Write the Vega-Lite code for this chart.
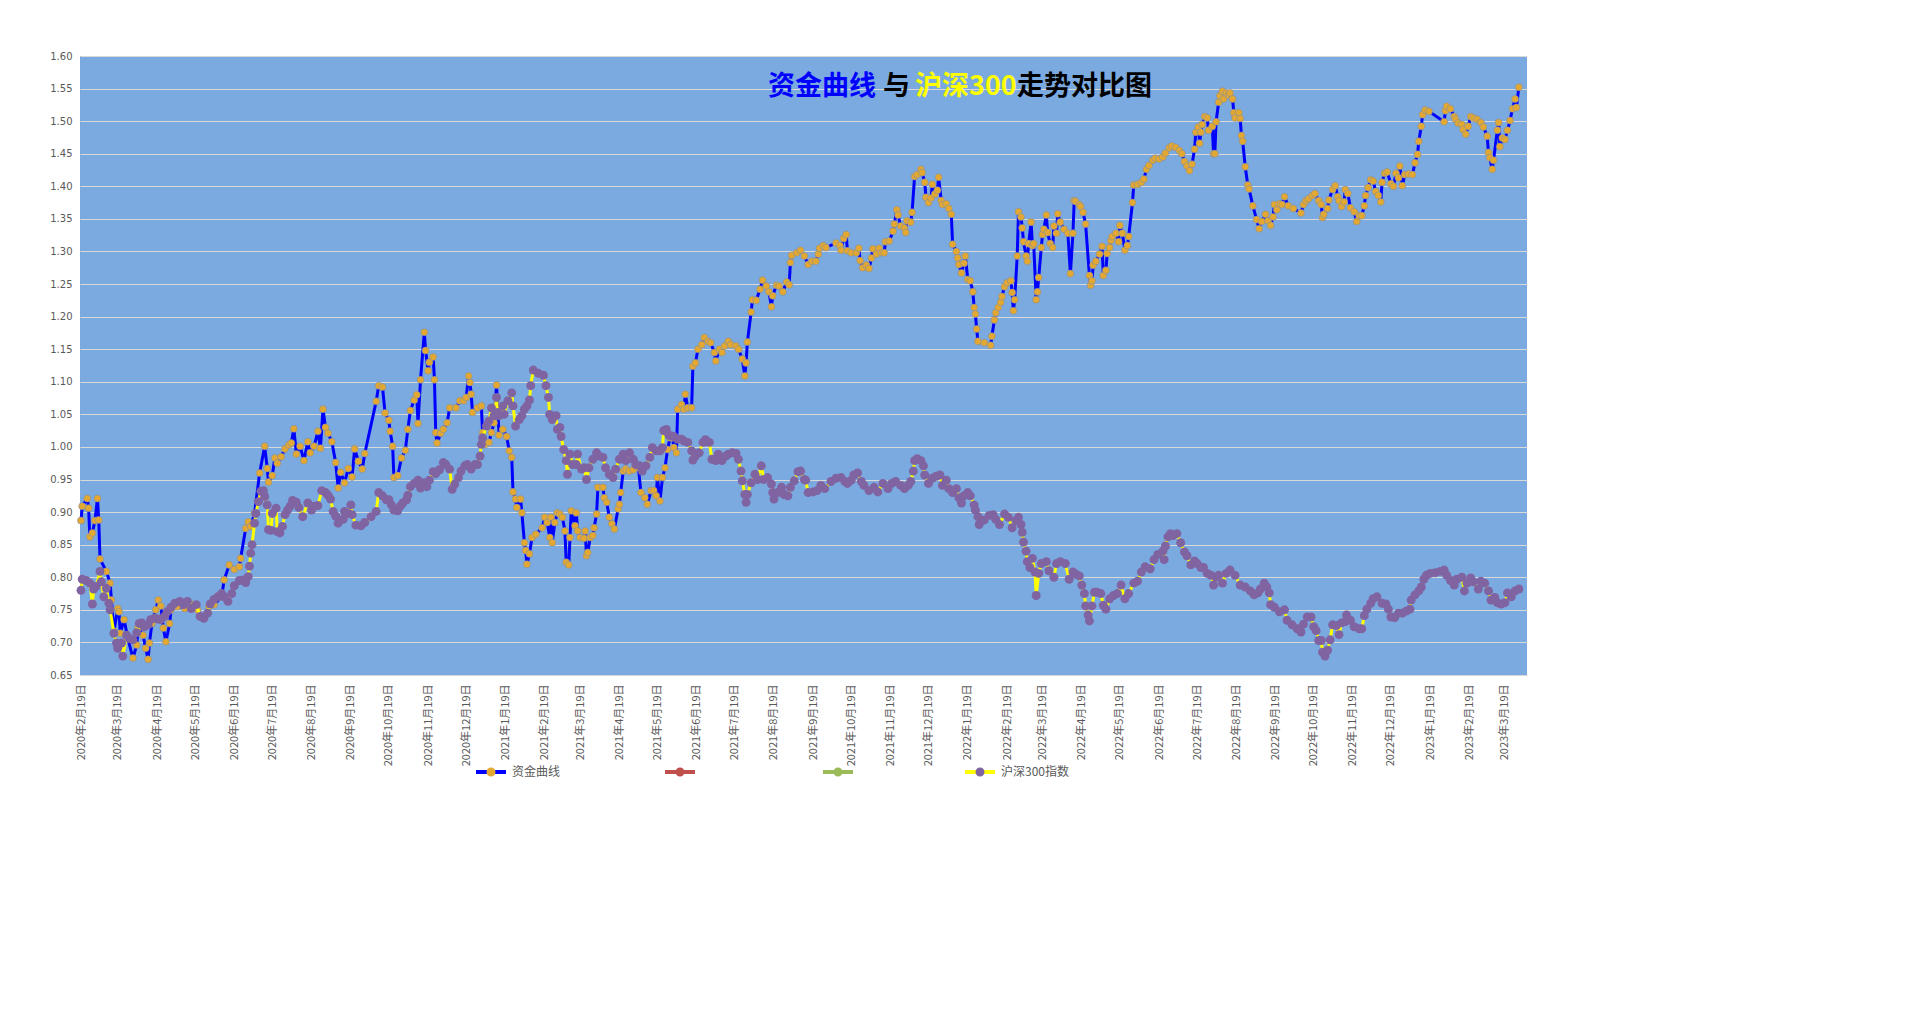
{
"$schema":"https://vega.github.io/schema/vega-lite/v6.json",
"width":1447,"height":619,
"autosize":{"type":"none"},
"padding":{"left":80,"top":56,"right":393,"bottom":351},
"background":"white",
"config":{"view":{"fill":"#7AAAE0","stroke":null},"font":"Noto Sans CJK SC"},
"datasets":{
"fund":[
{"d":"2020-02-19","v":0.887},{"d":"2020-02-20","v":0.909},{"d":"2020-02-24","v":0.921},{"d":"2020-02-25","v":0.906},{"d":"2020-02-26","v":0.862},{"d":"2020-02-28","v":0.868},{"d":"2020-03-01","v":0.887},{"d":"2020-03-03","v":0.921},{"d":"2020-03-04","v":0.888},{"d":"2020-03-05","v":0.828},{"d":"2020-03-10","v":0.809},{"d":"2020-03-13","v":0.791},{"d":"2020-03-14","v":0.765},{"d":"2020-03-16","v":0.717},{"d":"2020-03-19","v":0.752},{"d":"2020-03-20","v":0.747},{"d":"2020-03-21","v":0.714},{"d":"2020-03-24","v":0.735},{"d":"2020-03-27","v":0.706},{"d":"2020-03-31","v":0.676},
{"d":"2020-04-03","v":0.696},{"d":"2020-04-04","v":0.722},{"d":"2020-04-08","v":0.711},{"d":"2020-04-10","v":0.691},{"d":"2020-04-12","v":0.674},{"d":"2020-04-13","v":0.699},{"d":"2020-04-15","v":0.729},{"d":"2020-04-18","v":0.750},{"d":"2020-04-20","v":0.765},{"d":"2020-04-22","v":0.756},{"d":"2020-04-24","v":0.722},{"d":"2020-04-26","v":0.701},{"d":"2020-04-29","v":0.729},{"d":"2020-04-30","v":0.750},{"d":"2020-05-05","v":0.755},{"d":"2020-05-11","v":0.752},{"d":"2020-05-17","v":0.758},{"d":"2020-05-21","v":0.750},{"d":"2020-05-26","v":0.737},{"d":"2020-05-30","v":0.755},
{"d":"2020-06-03","v":0.758},{"d":"2020-06-09","v":0.770},{"d":"2020-06-11","v":0.796},{"d":"2020-06-15","v":0.819},{"d":"2020-06-19","v":0.812},{"d":"2020-06-23","v":0.816},{"d":"2020-06-24","v":0.829},{"d":"2020-06-28","v":0.875},{"d":"2020-06-30","v":0.885},{"d":"2020-07-02","v":0.878},{"d":"2020-07-05","v":0.898},{"d":"2020-07-09","v":0.960},{"d":"2020-07-13","v":1.001},{"d":"2020-07-15","v":0.967},{"d":"2020-07-16","v":0.946},{"d":"2020-07-19","v":0.956},{"d":"2020-07-21","v":0.983},{"d":"2020-07-23","v":0.975},{"d":"2020-07-26","v":0.985},{"d":"2020-07-29","v":0.997},
{"d":"2020-08-01","v":1.003},{"d":"2020-08-03","v":1.006},{"d":"2020-08-05","v":1.028},{"d":"2020-08-07","v":0.989},{"d":"2020-08-10","v":1.001},{"d":"2020-08-13","v":0.979},{"d":"2020-08-16","v":1.008},{"d":"2020-08-18","v":0.991},{"d":"2020-08-21","v":1.001},{"d":"2020-08-24","v":1.024},{"d":"2020-08-26","v":0.998},{"d":"2020-08-28","v":1.058},{"d":"2020-08-30","v":1.030},{"d":"2020-09-01","v":1.021},{"d":"2020-09-04","v":1.008},{"d":"2020-09-07","v":0.976},{"d":"2020-09-09","v":0.937},{"d":"2020-09-11","v":0.961},{"d":"2020-09-14","v":0.945},{"d":"2020-09-17","v":0.967},
{"d":"2020-09-20","v":0.954},{"d":"2020-09-22","v":0.997},{"d":"2020-09-25","v":0.978},{"d":"2020-09-28","v":0.966},{"d":"2020-09-30","v":0.990},{"d":"2020-10-09","v":1.070},{"d":"2020-10-11","v":1.094},{"d":"2020-10-14","v":1.092},{"d":"2020-10-16","v":1.052},{"d":"2020-10-19","v":1.041},{"d":"2020-10-20","v":1.024},{"d":"2020-10-22","v":1.001},{"d":"2020-10-23","v":0.953},{"d":"2020-10-26","v":0.956},{"d":"2020-10-29","v":0.983},{"d":"2020-11-01","v":0.995},{"d":"2020-11-03","v":1.027},{"d":"2020-11-05","v":1.056},{"d":"2020-11-08","v":1.072},{"d":"2020-11-10","v":1.080},
{"d":"2020-11-11","v":1.036},{"d":"2020-11-13","v":1.103},{"d":"2020-11-16","v":1.176},{"d":"2020-11-17","v":1.148},{"d":"2020-11-19","v":1.117},{"d":"2020-11-20","v":1.130},{"d":"2020-11-23","v":1.138},{"d":"2020-11-24","v":1.103},{"d":"2020-11-25","v":1.022},{"d":"2020-11-26","v":1.006},{"d":"2020-11-29","v":1.021},{"d":"2020-12-01","v":1.027},{"d":"2020-12-04","v":1.037},{"d":"2020-12-06","v":1.060},{"d":"2020-12-11","v":1.060},{"d":"2020-12-14","v":1.071},{"d":"2020-12-17","v":1.071},{"d":"2020-12-19","v":1.076},{"d":"2020-12-21","v":1.109},{"d":"2020-12-22","v":1.099},
{"d":"2020-12-23","v":1.081},{"d":"2020-12-24","v":1.053},{"d":"2020-12-28","v":1.060},{"d":"2020-12-31","v":1.063},{"d":"2021-01-01","v":1.022},{"d":"2021-01-03","v":1.004},{"d":"2021-01-06","v":1.007},{"d":"2021-01-08","v":1.022},{"d":"2021-01-10","v":1.037},{"d":"2021-01-12","v":1.095},{"d":"2021-01-14","v":1.018},{"d":"2021-01-17","v":1.027},{"d":"2021-01-20","v":1.016},{"d":"2021-01-22","v":0.994},{"d":"2021-01-24","v":0.984},{"d":"2021-01-25","v":0.931},{"d":"2021-01-27","v":0.920},{"d":"2021-01-28","v":0.907},{"d":"2021-01-31","v":0.920},{"d":"2021-02-01","v":0.899},
{"d":"2021-02-03","v":0.853},{"d":"2021-02-04","v":0.841},{"d":"2021-02-05","v":0.820},{"d":"2021-02-07","v":0.836},{"d":"2021-02-09","v":0.861},{"d":"2021-02-12","v":0.866},{"d":"2021-02-17","v":0.876},{"d":"2021-02-19","v":0.892},{"d":"2021-02-21","v":0.884},{"d":"2021-02-23","v":0.861},{"d":"2021-02-24","v":0.892},{"d":"2021-02-25","v":0.853},{"d":"2021-02-27","v":0.884},{"d":"2021-03-01","v":0.899},{"d":"2021-03-03","v":0.897},{"d":"2021-03-05","v":0.892},{"d":"2021-03-07","v":0.871},{"d":"2021-03-08","v":0.823},{"d":"2021-03-10","v":0.819},{"d":"2021-03-11","v":0.861},
{"d":"2021-03-12","v":0.902},{"d":"2021-03-15","v":0.879},{"d":"2021-03-16","v":0.899},{"d":"2021-03-17","v":0.871},{"d":"2021-03-19","v":0.861},{"d":"2021-03-22","v":0.860},{"d":"2021-03-23","v":0.871},{"d":"2021-03-24","v":0.833},{"d":"2021-03-25","v":0.838},{"d":"2021-03-27","v":0.861},{"d":"2021-03-29","v":0.864},{"d":"2021-03-30","v":0.876},{"d":"2021-04-01","v":0.897},{"d":"2021-04-02","v":0.938},{"d":"2021-04-06","v":0.938},{"d":"2021-04-07","v":0.922},{"d":"2021-04-09","v":0.915},{"d":"2021-04-11","v":0.892},{"d":"2021-04-13","v":0.882},{"d":"2021-04-15","v":0.874},
{"d":"2021-04-18","v":0.905},{"d":"2021-04-19","v":0.912},{"d":"2021-04-20","v":0.930},{"d":"2021-04-22","v":0.963},{"d":"2021-04-24","v":0.966},{"d":"2021-04-27","v":0.963},{"d":"2021-04-30","v":0.965},{"d":"2021-05-04","v":0.968},{"d":"2021-05-06","v":0.930},{"d":"2021-05-09","v":0.922},{"d":"2021-05-11","v":0.912},{"d":"2021-05-14","v":0.933},{"d":"2021-05-16","v":0.933},{"d":"2021-05-18","v":0.925},{"d":"2021-05-19","v":0.953},{"d":"2021-05-21","v":0.917},{"d":"2021-05-23","v":0.953},{"d":"2021-05-25","v":0.968},{"d":"2021-05-27","v":0.996},{"d":"2021-05-29","v":1.014},
{"d":"2021-05-31","v":1.014},{"d":"2021-06-01","v":0.999},{"d":"2021-06-03","v":0.991},{"d":"2021-06-04","v":1.058},{"d":"2021-06-07","v":1.065},{"d":"2021-06-09","v":1.058},{"d":"2021-06-10","v":1.081},{"d":"2021-06-12","v":1.060},{"d":"2021-06-15","v":1.060},{"d":"2021-06-16","v":1.124},{"d":"2021-06-18","v":1.129},{"d":"2021-06-20","v":1.150},{"d":"2021-06-23","v":1.157},{"d":"2021-06-25","v":1.168},{"d":"2021-06-28","v":1.162},{"d":"2021-06-30","v":1.160},{"d":"2021-07-03","v":1.145},{"d":"2021-07-04","v":1.132},{"d":"2021-07-07","v":1.150},{"d":"2021-07-09","v":1.145},
{"d":"2021-07-11","v":1.155},{"d":"2021-07-14","v":1.162},{"d":"2021-07-16","v":1.157},{"d":"2021-07-20","v":1.155},{"d":"2021-07-22","v":1.150},{"d":"2021-07-25","v":1.135},{"d":"2021-07-27","v":1.109},{"d":"2021-07-28","v":1.129},{"d":"2021-07-29","v":1.161},{"d":"2021-08-01","v":1.207},{"d":"2021-08-02","v":1.226},{"d":"2021-08-05","v":1.225},{"d":"2021-08-08","v":1.242},{"d":"2021-08-10","v":1.256},{"d":"2021-08-13","v":1.247},{"d":"2021-08-15","v":1.238},{"d":"2021-08-17","v":1.215},{"d":"2021-08-18","v":1.232},{"d":"2021-08-21","v":1.248},{"d":"2021-08-23","v":1.247},
{"d":"2021-08-26","v":1.238},{"d":"2021-08-29","v":1.253},{"d":"2021-08-31","v":1.249},{"d":"2021-09-01","v":1.283},{"d":"2021-09-02","v":1.294},{"d":"2021-09-06","v":1.298},{"d":"2021-09-09","v":1.302},{"d":"2021-09-12","v":1.293},{"d":"2021-09-15","v":1.280},{"d":"2021-09-18","v":1.285},{"d":"2021-09-21","v":1.285},{"d":"2021-09-23","v":1.296},{"d":"2021-09-24","v":1.305},{"d":"2021-09-27","v":1.309},{"d":"2021-09-29","v":1.306},{"d":"2021-10-07","v":1.313},{"d":"2021-10-10","v":1.309},{"d":"2021-10-11","v":1.302},{"d":"2021-10-13","v":1.320},{"d":"2021-10-15","v":1.326},
{"d":"2021-10-16","v":1.301},{"d":"2021-10-19","v":1.298},{"d":"2021-10-23","v":1.298},{"d":"2021-10-25","v":1.305},{"d":"2021-10-26","v":1.286},{"d":"2021-10-28","v":1.275},{"d":"2021-10-31","v":1.279},{"d":"2021-11-02","v":1.274},{"d":"2021-11-04","v":1.290},{"d":"2021-11-05","v":1.304},{"d":"2021-11-08","v":1.296},{"d":"2021-11-10","v":1.305},{"d":"2021-11-12","v":1.298},{"d":"2021-11-14","v":1.298},{"d":"2021-11-15","v":1.315},{"d":"2021-11-18","v":1.316},{"d":"2021-11-21","v":1.331},{"d":"2021-11-22","v":1.342},{"d":"2021-11-24","v":1.364},{"d":"2021-11-25","v":1.356},
{"d":"2021-11-27","v":1.339},{"d":"2021-11-30","v":1.336},{"d":"2021-12-01","v":1.329},{"d":"2021-12-02","v":1.347},{"d":"2021-12-05","v":1.345},{"d":"2021-12-06","v":1.360},{"d":"2021-12-08","v":1.415},{"d":"2021-12-10","v":1.418},{"d":"2021-12-13","v":1.426},{"d":"2021-12-14","v":1.421},{"d":"2021-12-16","v":1.406},{"d":"2021-12-17","v":1.383},{"d":"2021-12-19","v":1.375},{"d":"2021-12-21","v":1.382},{"d":"2021-12-22","v":1.403},{"d":"2021-12-24","v":1.388},{"d":"2021-12-26","v":1.394},{"d":"2021-12-27","v":1.414},{"d":"2021-12-29","v":1.378},{"d":"2021-12-30","v":1.372},
{"d":"2022-01-02","v":1.373},{"d":"2022-01-04","v":1.366},{"d":"2022-01-06","v":1.357},{"d":"2022-01-07","v":1.311},{"d":"2022-01-10","v":1.300},{"d":"2022-01-11","v":1.290},{"d":"2022-01-12","v":1.280},{"d":"2022-01-14","v":1.267},{"d":"2022-01-16","v":1.282},{"d":"2022-01-17","v":1.293},{"d":"2022-01-19","v":1.257},{"d":"2022-01-21","v":1.255},{"d":"2022-01-23","v":1.238},{"d":"2022-01-24","v":1.214},{"d":"2022-01-25","v":1.204},{"d":"2022-01-26","v":1.181},{"d":"2022-01-27","v":1.162},{"d":"2022-02-01","v":1.160},{"d":"2022-02-06","v":1.156},{"d":"2022-02-07","v":1.170},
{"d":"2022-02-09","v":1.195},{"d":"2022-02-10","v":1.206},{"d":"2022-02-12","v":1.214},{"d":"2022-02-14","v":1.222},{"d":"2022-02-15","v":1.231},{"d":"2022-02-17","v":1.246},{"d":"2022-02-19","v":1.252},{"d":"2022-02-22","v":1.255},{"d":"2022-02-23","v":1.237},{"d":"2022-02-24","v":1.209},{"d":"2022-02-25","v":1.226},{"d":"2022-02-27","v":1.293},{"d":"2022-02-28","v":1.361},{"d":"2022-03-02","v":1.353},{"d":"2022-03-03","v":1.336},{"d":"2022-03-04","v":1.315},{"d":"2022-03-06","v":1.293},{"d":"2022-03-07","v":1.285},{"d":"2022-03-08","v":1.312},{"d":"2022-03-10","v":1.345},
{"d":"2022-03-11","v":1.309},{"d":"2022-03-12","v":1.312},{"d":"2022-03-14","v":1.226},{"d":"2022-03-15","v":1.238},{"d":"2022-03-16","v":1.260},{"d":"2022-03-18","v":1.306},{"d":"2022-03-19","v":1.326},{"d":"2022-03-20","v":1.334},{"d":"2022-03-22","v":1.356},{"d":"2022-03-23","v":1.329},{"d":"2022-03-25","v":1.312},{"d":"2022-03-27","v":1.306},{"d":"2022-03-28","v":1.339},{"d":"2022-03-30","v":1.328},{"d":"2022-03-31","v":1.358},{"d":"2022-04-02","v":1.345},{"d":"2022-04-05","v":1.334},{"d":"2022-04-08","v":1.328},{"d":"2022-04-10","v":1.266},{"d":"2022-04-12","v":1.328},
{"d":"2022-04-13","v":1.378},{"d":"2022-04-14","v":1.377},{"d":"2022-04-17","v":1.372},{"d":"2022-04-18","v":1.369},{"d":"2022-04-20","v":1.360},{"d":"2022-04-22","v":1.342},{"d":"2022-04-25","v":1.263},{"d":"2022-04-26","v":1.248},{"d":"2022-04-27","v":1.255},{"d":"2022-04-28","v":1.279},{"d":"2022-04-30","v":1.285},{"d":"2022-05-03","v":1.296},{"d":"2022-05-05","v":1.308},{"d":"2022-05-06","v":1.263},{"d":"2022-05-08","v":1.271},{"d":"2022-05-09","v":1.297},{"d":"2022-05-11","v":1.306},{"d":"2022-05-12","v":1.317},{"d":"2022-05-13","v":1.323},{"d":"2022-05-16","v":1.328},
{"d":"2022-05-18","v":1.315},{"d":"2022-05-19","v":1.340},{"d":"2022-05-21","v":1.328},{"d":"2022-05-23","v":1.302},{"d":"2022-05-25","v":1.309},{"d":"2022-05-26","v":1.323},{"d":"2022-05-29","v":1.375},{"d":"2022-05-30","v":1.402},{"d":"2022-06-02","v":1.403},{"d":"2022-06-05","v":1.406},{"d":"2022-06-07","v":1.411},{"d":"2022-06-09","v":1.426},{"d":"2022-06-11","v":1.432},{"d":"2022-06-14","v":1.440},{"d":"2022-06-16","v":1.443},{"d":"2022-06-19","v":1.442},{"d":"2022-06-22","v":1.445},{"d":"2022-06-24","v":1.451},{"d":"2022-06-27","v":1.459},{"d":"2022-06-29","v":1.462},
{"d":"2022-07-02","v":1.460},{"d":"2022-07-05","v":1.455},{"d":"2022-07-07","v":1.450},{"d":"2022-07-09","v":1.438},{"d":"2022-07-11","v":1.431},{"d":"2022-07-13","v":1.424},{"d":"2022-07-15","v":1.434},{"d":"2022-07-17","v":1.457},{"d":"2022-07-18","v":1.483},{"d":"2022-07-20","v":1.491},{"d":"2022-07-21","v":1.466},{"d":"2022-07-22","v":1.483},{"d":"2022-07-23","v":1.495},{"d":"2022-07-25","v":1.507},{"d":"2022-07-27","v":1.505},{"d":"2022-07-28","v":1.486},{"d":"2022-07-31","v":1.492},{"d":"2022-08-01","v":1.450},{"d":"2022-08-02","v":1.450},{"d":"2022-08-03","v":1.499},
{"d":"2022-08-05","v":1.529},{"d":"2022-08-06","v":1.539},{"d":"2022-08-08","v":1.546},{"d":"2022-08-09","v":1.534},{"d":"2022-08-11","v":1.543},{"d":"2022-08-13","v":1.540},{"d":"2022-08-14","v":1.543},{"d":"2022-08-16","v":1.534},{"d":"2022-08-17","v":1.513},{"d":"2022-08-18","v":1.505},{"d":"2022-08-21","v":1.513},{"d":"2022-08-22","v":1.504},{"d":"2022-08-23","v":1.478},{"d":"2022-08-24","v":1.469},{"d":"2022-08-26","v":1.430},{"d":"2022-08-28","v":1.402},{"d":"2022-08-29","v":1.396},{"d":"2022-09-01","v":1.370},{"d":"2022-09-04","v":1.349},{"d":"2022-09-06","v":1.335},
{"d":"2022-09-08","v":1.346},{"d":"2022-09-11","v":1.357},{"d":"2022-09-13","v":1.347},{"d":"2022-09-15","v":1.340},{"d":"2022-09-17","v":1.353},{"d":"2022-09-18","v":1.372},{"d":"2022-09-20","v":1.364},{"d":"2022-09-22","v":1.373},{"d":"2022-09-24","v":1.372},{"d":"2022-09-26","v":1.384},{"d":"2022-09-29","v":1.370},{"d":"2022-10-03","v":1.366},{"d":"2022-10-09","v":1.359},{"d":"2022-10-11","v":1.372},{"d":"2022-10-13","v":1.378},{"d":"2022-10-15","v":1.381},{"d":"2022-10-18","v":1.386},{"d":"2022-10-20","v":1.389},{"d":"2022-10-23","v":1.378},{"d":"2022-10-25","v":1.372},
{"d":"2022-10-26","v":1.352},{"d":"2022-10-27","v":1.357},{"d":"2022-10-30","v":1.366},{"d":"2022-10-31","v":1.379},{"d":"2022-11-03","v":1.395},{"d":"2022-11-05","v":1.401},{"d":"2022-11-07","v":1.384},{"d":"2022-11-08","v":1.378},{"d":"2022-11-10","v":1.369},{"d":"2022-11-12","v":1.376},{"d":"2022-11-13","v":1.395},{"d":"2022-11-15","v":1.389},{"d":"2022-11-17","v":1.367},{"d":"2022-11-20","v":1.361},{"d":"2022-11-22","v":1.346},{"d":"2022-11-24","v":1.355},{"d":"2022-11-26","v":1.355},{"d":"2022-11-28","v":1.370},{"d":"2022-11-29","v":1.386},{"d":"2022-12-01","v":1.398},
{"d":"2022-12-03","v":1.410},{"d":"2022-12-05","v":1.408},{"d":"2022-12-07","v":1.392},{"d":"2022-12-09","v":1.386},{"d":"2022-12-11","v":1.376},{"d":"2022-12-12","v":1.406},{"d":"2022-12-14","v":1.420},{"d":"2022-12-16","v":1.422},{"d":"2022-12-19","v":1.404},{"d":"2022-12-21","v":1.400},{"d":"2022-12-23","v":1.420},{"d":"2022-12-25","v":1.413},{"d":"2022-12-26","v":1.431},{"d":"2022-12-28","v":1.401},{"d":"2022-12-30","v":1.418},{"d":"2023-01-02","v":1.419},{"d":"2023-01-05","v":1.418},{"d":"2023-01-07","v":1.436},{"d":"2023-01-09","v":1.449},{"d":"2023-01-10","v":1.469},
{"d":"2023-01-12","v":1.492},{"d":"2023-01-13","v":1.510},{"d":"2023-01-15","v":1.517},{"d":"2023-01-18","v":1.515},{"d":"2023-01-30","v":1.499},{"d":"2023-01-31","v":1.516},{"d":"2023-02-01","v":1.523},{"d":"2023-02-04","v":1.519},{"d":"2023-02-07","v":1.507},{"d":"2023-02-08","v":1.503},{"d":"2023-02-10","v":1.497},{"d":"2023-02-13","v":1.495},{"d":"2023-02-14","v":1.487},{"d":"2023-02-16","v":1.480},{"d":"2023-02-18","v":1.492},{"d":"2023-02-20","v":1.507},{"d":"2023-02-22","v":1.505},{"d":"2023-02-25","v":1.503},{"d":"2023-02-28","v":1.498},{"d":"2023-03-02","v":1.491},
{"d":"2023-03-05","v":1.477},{"d":"2023-03-06","v":1.452},{"d":"2023-03-07","v":1.444},{"d":"2023-03-09","v":1.426},{"d":"2023-03-10","v":1.440},{"d":"2023-03-13","v":1.486},{"d":"2023-03-14","v":1.498},{"d":"2023-03-15","v":1.461},{"d":"2023-03-17","v":1.474},{"d":"2023-03-19","v":1.472},{"d":"2023-03-21","v":1.486},{"d":"2023-03-23","v":1.501},{"d":"2023-03-25","v":1.519},{"d":"2023-03-27","v":1.534},{"d":"2023-03-28","v":1.521},{"d":"2023-03-30","v":1.552}
],
"hs":[
{"d":"2020-02-19","v":0.780},{"d":"2020-02-20","v":0.797},{"d":"2020-02-23","v":0.795},{"d":"2020-02-26","v":0.791},{"d":"2020-02-28","v":0.759},{"d":"2020-02-29","v":0.782},{"d":"2020-03-02","v":0.786},{"d":"2020-03-05","v":0.809},{"d":"2020-03-06","v":0.793},{"d":"2020-03-08","v":0.770},{"d":"2020-03-10","v":0.783},{"d":"2020-03-12","v":0.760},{"d":"2020-03-13","v":0.750},{"d":"2020-03-16","v":0.714},{"d":"2020-03-18","v":0.699},{"d":"2020-03-19","v":0.691},{"d":"2020-03-22","v":0.699},{"d":"2020-03-23","v":0.679},{"d":"2020-03-26","v":0.711},{"d":"2020-03-28","v":0.706},
{"d":"2020-03-31","v":0.704},{"d":"2020-04-03","v":0.715},{"d":"2020-04-05","v":0.729},{"d":"2020-04-07","v":0.730},{"d":"2020-04-09","v":0.724},{"d":"2020-04-12","v":0.727},{"d":"2020-04-14","v":0.735},{"d":"2020-04-17","v":0.737},{"d":"2020-04-20","v":0.736},{"d":"2020-04-22","v":0.735},{"d":"2020-04-25","v":0.740},{"d":"2020-04-27","v":0.747},{"d":"2020-04-30","v":0.754},{"d":"2020-05-03","v":0.760},{"d":"2020-05-07","v":0.763},{"d":"2020-05-10","v":0.758},{"d":"2020-05-13","v":0.763},{"d":"2020-05-16","v":0.752},{"d":"2020-05-20","v":0.758},{"d":"2020-05-23","v":0.740},
{"d":"2020-05-26","v":0.737},{"d":"2020-05-29","v":0.745},{"d":"2020-05-31","v":0.759},{"d":"2020-06-03","v":0.766},{"d":"2020-06-06","v":0.770},{"d":"2020-06-09","v":0.775},{"d":"2020-06-11","v":0.770},{"d":"2020-06-14","v":0.763},{"d":"2020-06-17","v":0.775},{"d":"2020-06-19","v":0.787},{"d":"2020-06-23","v":0.795},{"d":"2020-06-26","v":0.796},{"d":"2020-06-28","v":0.792},{"d":"2020-06-30","v":0.801},{"d":"2020-07-01","v":0.817},{"d":"2020-07-02","v":0.837},{"d":"2020-07-03","v":0.850},{"d":"2020-07-05","v":0.883},{"d":"2020-07-06","v":0.898},{"d":"2020-07-08","v":0.916},
{"d":"2020-07-10","v":0.932},{"d":"2020-07-12","v":0.933},{"d":"2020-07-13","v":0.924},{"d":"2020-07-15","v":0.911},{"d":"2020-07-16","v":0.873},{"d":"2020-07-18","v":0.872},{"d":"2020-07-19","v":0.898},{"d":"2020-07-22","v":0.906},{"d":"2020-07-23","v":0.870},{"d":"2020-07-25","v":0.868},{"d":"2020-07-27","v":0.878},{"d":"2020-07-29","v":0.896},{"d":"2020-07-31","v":0.903},{"d":"2020-08-02","v":0.909},{"d":"2020-08-04","v":0.918},{"d":"2020-08-07","v":0.915},{"d":"2020-08-09","v":0.907},{"d":"2020-08-12","v":0.893},{"d":"2020-08-16","v":0.914},{"d":"2020-08-19","v":0.903},
{"d":"2020-08-21","v":0.909},{"d":"2020-08-24","v":0.910},{"d":"2020-08-27","v":0.933},{"d":"2020-08-30","v":0.930},{"d":"2020-09-01","v":0.926},{"d":"2020-09-03","v":0.920},{"d":"2020-09-05","v":0.901},{"d":"2020-09-07","v":0.894},{"d":"2020-09-09","v":0.883},{"d":"2020-09-13","v":0.889},{"d":"2020-09-14","v":0.901},{"d":"2020-09-17","v":0.898},{"d":"2020-09-19","v":0.911},{"d":"2020-09-20","v":0.896},{"d":"2020-09-23","v":0.880},{"d":"2020-09-27","v":0.879},{"d":"2020-09-30","v":0.884},{"d":"2020-10-05","v":0.893},{"d":"2020-10-09","v":0.901},{"d":"2020-10-11","v":0.930},
{"d":"2020-10-14","v":0.925},{"d":"2020-10-17","v":0.919},{"d":"2020-10-19","v":0.919},{"d":"2020-10-21","v":0.911},{"d":"2020-10-23","v":0.903},{"d":"2020-10-26","v":0.902},{"d":"2020-10-28","v":0.909},{"d":"2020-10-30","v":0.914},{"d":"2020-11-02","v":0.919},{"d":"2020-11-03","v":0.926},{"d":"2020-11-05","v":0.939},{"d":"2020-11-08","v":0.944},{"d":"2020-11-11","v":0.949},{"d":"2020-11-13","v":0.937},{"d":"2020-11-16","v":0.945},{"d":"2020-11-18","v":0.939},{"d":"2020-11-20","v":0.949},{"d":"2020-11-23","v":0.962},{"d":"2020-11-25","v":0.959},{"d":"2020-11-28","v":0.965},
{"d":"2020-12-01","v":0.976},{"d":"2020-12-03","v":0.973},{"d":"2020-12-06","v":0.966},{"d":"2020-12-08","v":0.935},{"d":"2020-12-10","v":0.943},{"d":"2020-12-13","v":0.953},{"d":"2020-12-15","v":0.963},{"d":"2020-12-18","v":0.971},{"d":"2020-12-20","v":0.973},{"d":"2020-12-23","v":0.966},{"d":"2020-12-26","v":0.973},{"d":"2020-12-28","v":0.973},{"d":"2020-12-30","v":0.986},{"d":"2020-12-31","v":1.004},{"d":"2021-01-01","v":1.014},{"d":"2021-01-04","v":1.032},{"d":"2021-01-06","v":1.040},{"d":"2021-01-08","v":1.060},{"d":"2021-01-10","v":1.048},{"d":"2021-01-12","v":1.076},
{"d":"2021-01-13","v":1.053},{"d":"2021-01-14","v":1.048},{"d":"2021-01-17","v":1.063},{"d":"2021-01-18","v":1.050},{"d":"2021-01-21","v":1.071},{"d":"2021-01-24","v":1.083},{"d":"2021-01-25","v":1.063},{"d":"2021-01-27","v":1.032},{"d":"2021-01-30","v":1.042},{"d":"2021-02-01","v":1.048},{"d":"2021-02-03","v":1.058},{"d":"2021-02-05","v":1.063},{"d":"2021-02-07","v":1.072},{"d":"2021-02-08","v":1.094},{"d":"2021-02-10","v":1.118},{"d":"2021-02-14","v":1.113},{"d":"2021-02-18","v":1.110},{"d":"2021-02-20","v":1.094},{"d":"2021-02-22","v":1.076},{"d":"2021-02-23","v":1.050},
{"d":"2021-02-25","v":1.042},{"d":"2021-02-28","v":1.048},{"d":"2021-03-01","v":1.027},{"d":"2021-03-03","v":1.030},{"d":"2021-03-04","v":1.016},{"d":"2021-03-06","v":0.996},{"d":"2021-03-08","v":0.979},{"d":"2021-03-09","v":0.958},{"d":"2021-03-11","v":0.989},{"d":"2021-03-13","v":0.973},{"d":"2021-03-16","v":0.973},{"d":"2021-03-17","v":0.989},{"d":"2021-03-20","v":0.966},{"d":"2021-03-22","v":0.968},{"d":"2021-03-24","v":0.950},{"d":"2021-03-26","v":0.968},{"d":"2021-03-29","v":0.981},{"d":"2021-04-01","v":0.991},{"d":"2021-04-03","v":0.986},{"d":"2021-04-06","v":0.984},
{"d":"2021-04-08","v":0.968},{"d":"2021-04-11","v":0.958},{"d":"2021-04-14","v":0.953},{"d":"2021-04-16","v":0.966},{"d":"2021-04-19","v":0.981},{"d":"2021-04-22","v":0.989},{"d":"2021-04-24","v":0.979},{"d":"2021-04-27","v":0.991},{"d":"2021-04-30","v":0.981},{"d":"2021-05-02","v":0.973},{"d":"2021-05-05","v":0.971},{"d":"2021-05-07","v":0.963},{"d":"2021-05-10","v":0.971},{"d":"2021-05-13","v":0.984},{"d":"2021-05-15","v":0.999},{"d":"2021-05-18","v":0.994},{"d":"2021-05-21","v":0.994},{"d":"2021-05-23","v":0.999},{"d":"2021-05-24","v":1.025},{"d":"2021-05-26","v":1.027},
{"d":"2021-05-28","v":1.018},{"d":"2021-05-30","v":1.017},{"d":"2021-06-01","v":1.016},{"d":"2021-06-04","v":1.012},{"d":"2021-06-07","v":1.012},{"d":"2021-06-09","v":1.009},{"d":"2021-06-12","v":1.007},{"d":"2021-06-15","v":0.994},{"d":"2021-06-16","v":0.980},{"d":"2021-06-18","v":0.986},{"d":"2021-06-21","v":0.991},{"d":"2021-06-24","v":1.007},{"d":"2021-06-26","v":1.011},{"d":"2021-06-29","v":1.007},{"d":"2021-07-01","v":0.981},{"d":"2021-07-04","v":0.979},{"d":"2021-07-06","v":0.989},{"d":"2021-07-09","v":0.979},{"d":"2021-07-12","v":0.986},{"d":"2021-07-14","v":0.989},
{"d":"2021-07-17","v":0.991},{"d":"2021-07-20","v":0.990},{"d":"2021-07-22","v":0.981},{"d":"2021-07-24","v":0.963},{"d":"2021-07-25","v":0.948},{"d":"2021-07-27","v":0.927},{"d":"2021-07-28","v":0.915},{"d":"2021-07-29","v":0.927},{"d":"2021-08-01","v":0.945},{"d":"2021-08-04","v":0.958},{"d":"2021-08-06","v":0.950},{"d":"2021-08-09","v":0.971},{"d":"2021-08-11","v":0.950},{"d":"2021-08-14","v":0.953},{"d":"2021-08-17","v":0.943},{"d":"2021-08-18","v":0.930},{"d":"2021-08-19","v":0.920},{"d":"2021-08-22","v":0.930},{"d":"2021-08-25","v":0.938},{"d":"2021-08-27","v":0.927},
{"d":"2021-08-30","v":0.925},{"d":"2021-09-01","v":0.938},{"d":"2021-09-04","v":0.948},{"d":"2021-09-07","v":0.962},{"d":"2021-09-09","v":0.963},{"d":"2021-09-12","v":0.950},{"d":"2021-09-13","v":0.949},{"d":"2021-09-15","v":0.930},{"d":"2021-09-19","v":0.931},{"d":"2021-09-22","v":0.933},{"d":"2021-09-25","v":0.941},{"d":"2021-09-28","v":0.936},{"d":"2021-10-03","v":0.947},{"d":"2021-10-07","v":0.952},{"d":"2021-10-11","v":0.953},{"d":"2021-10-14","v":0.947},{"d":"2021-10-16","v":0.944},{"d":"2021-10-19","v":0.949},{"d":"2021-10-21","v":0.957},{"d":"2021-10-24","v":0.960},
{"d":"2021-10-27","v":0.947},{"d":"2021-10-29","v":0.941},{"d":"2021-11-02","v":0.933},{"d":"2021-11-06","v":0.938},{"d":"2021-11-09","v":0.931},{"d":"2021-11-13","v":0.944},{"d":"2021-11-17","v":0.936},{"d":"2021-11-20","v":0.944},{"d":"2021-11-23","v":0.947},{"d":"2021-11-27","v":0.941},{"d":"2021-11-30","v":0.936},{"d":"2021-12-03","v":0.941},{"d":"2021-12-05","v":0.947},{"d":"2021-12-07","v":0.963},{"d":"2021-12-08","v":0.979},{"d":"2021-12-10","v":0.982},{"d":"2021-12-13","v":0.979},{"d":"2021-12-15","v":0.971},{"d":"2021-12-16","v":0.957},{"d":"2021-12-19","v":0.944},
{"d":"2021-12-22","v":0.952},{"d":"2021-12-25","v":0.955},{"d":"2021-12-28","v":0.957},{"d":"2021-12-30","v":0.941},{"d":"2022-01-02","v":0.949},{"d":"2022-01-04","v":0.936},{"d":"2022-01-07","v":0.930},{"d":"2022-01-10","v":0.936},{"d":"2022-01-12","v":0.922},{"d":"2022-01-14","v":0.914},{"d":"2022-01-16","v":0.925},{"d":"2022-01-19","v":0.930},{"d":"2022-01-21","v":0.925},{"d":"2022-01-24","v":0.911},{"d":"2022-01-25","v":0.903},{"d":"2022-01-27","v":0.893},{"d":"2022-01-28","v":0.881},{"d":"2022-02-01","v":0.888},{"d":"2022-02-05","v":0.895},{"d":"2022-02-08","v":0.896},
{"d":"2022-02-10","v":0.889},{"d":"2022-02-13","v":0.881},{"d":"2022-02-17","v":0.897},{"d":"2022-02-20","v":0.892},{"d":"2022-02-23","v":0.876},{"d":"2022-02-26","v":0.887},{"d":"2022-02-28","v":0.892},{"d":"2022-03-02","v":0.881},{"d":"2022-03-03","v":0.869},{"d":"2022-03-04","v":0.854},{"d":"2022-03-06","v":0.840},{"d":"2022-03-07","v":0.824},{"d":"2022-03-09","v":0.815},{"d":"2022-03-11","v":0.829},{"d":"2022-03-13","v":0.808},{"d":"2022-03-14","v":0.772},{"d":"2022-03-16","v":0.806},{"d":"2022-03-18","v":0.821},{"d":"2022-03-22","v":0.824},{"d":"2022-03-24","v":0.810},
{"d":"2022-03-28","v":0.800},{"d":"2022-03-30","v":0.821},{"d":"2022-04-02","v":0.824},{"d":"2022-04-06","v":0.821},{"d":"2022-04-09","v":0.797},{"d":"2022-04-12","v":0.808},{"d":"2022-04-14","v":0.805},{"d":"2022-04-17","v":0.802},{"d":"2022-04-19","v":0.788},{"d":"2022-04-21","v":0.775},{"d":"2022-04-22","v":0.756},{"d":"2022-04-24","v":0.742},{"d":"2022-04-25","v":0.733},{"d":"2022-04-27","v":0.756},{"d":"2022-04-29","v":0.777},{"d":"2022-05-01","v":0.777},{"d":"2022-05-04","v":0.775},{"d":"2022-05-06","v":0.757},{"d":"2022-05-08","v":0.751},{"d":"2022-05-11","v":0.767},
{"d":"2022-05-14","v":0.772},{"d":"2022-05-17","v":0.775},{"d":"2022-05-20","v":0.788},{"d":"2022-05-23","v":0.767},{"d":"2022-05-26","v":0.775},{"d":"2022-05-30","v":0.791},{"d":"2022-06-02","v":0.794},{"d":"2022-06-05","v":0.808},{"d":"2022-06-08","v":0.816},{"d":"2022-06-12","v":0.813},{"d":"2022-06-15","v":0.827},{"d":"2022-06-18","v":0.835},{"d":"2022-06-22","v":0.840},{"d":"2022-06-23","v":0.827},{"d":"2022-06-24","v":0.848},{"d":"2022-06-26","v":0.862},{"d":"2022-06-28","v":0.867},{"d":"2022-06-30","v":0.864},{"d":"2022-07-03","v":0.867},{"d":"2022-07-06","v":0.853},
{"d":"2022-07-09","v":0.839},{"d":"2022-07-11","v":0.833},{"d":"2022-07-14","v":0.819},{"d":"2022-07-17","v":0.825},{"d":"2022-07-19","v":0.821},{"d":"2022-07-22","v":0.815},{"d":"2022-07-24","v":0.815},{"d":"2022-07-27","v":0.806},{"d":"2022-07-30","v":0.803},{"d":"2022-08-01","v":0.788},{"d":"2022-08-03","v":0.800},{"d":"2022-08-05","v":0.803},{"d":"2022-08-08","v":0.791},{"d":"2022-08-11","v":0.806},{"d":"2022-08-14","v":0.811},{"d":"2022-08-18","v":0.803},{"d":"2022-08-22","v":0.788},{"d":"2022-08-26","v":0.785},{"d":"2022-08-30","v":0.779},{"d":"2022-09-02","v":0.773},
{"d":"2022-09-05","v":0.776},{"d":"2022-09-07","v":0.782},{"d":"2022-09-10","v":0.791},{"d":"2022-09-12","v":0.785},{"d":"2022-09-14","v":0.776},{"d":"2022-09-15","v":0.758},{"d":"2022-09-18","v":0.754},{"d":"2022-09-22","v":0.747},{"d":"2022-09-26","v":0.750},{"d":"2022-09-28","v":0.734},{"d":"2022-10-02","v":0.727},{"d":"2022-10-06","v":0.721},{"d":"2022-10-09","v":0.716},{"d":"2022-10-11","v":0.728},{"d":"2022-10-14","v":0.739},{"d":"2022-10-17","v":0.739},{"d":"2022-10-19","v":0.724},{"d":"2022-10-21","v":0.718},{"d":"2022-10-23","v":0.703},{"d":"2022-10-25","v":0.703},
{"d":"2022-10-26","v":0.685},{"d":"2022-10-28","v":0.679},{"d":"2022-10-30","v":0.688},{"d":"2022-11-01","v":0.704},{"d":"2022-11-03","v":0.727},{"d":"2022-11-06","v":0.726},{"d":"2022-11-08","v":0.712},{"d":"2022-11-10","v":0.730},{"d":"2022-11-13","v":0.732},{"d":"2022-11-14","v":0.742},{"d":"2022-11-17","v":0.734},{"d":"2022-11-20","v":0.724},{"d":"2022-11-24","v":0.721},{"d":"2022-11-26","v":0.721},{"d":"2022-11-28","v":0.741},{"d":"2022-11-30","v":0.751},{"d":"2022-12-03","v":0.760},{"d":"2022-12-05","v":0.767},{"d":"2022-12-08","v":0.770},{"d":"2022-12-12","v":0.760},
{"d":"2022-12-15","v":0.759},{"d":"2022-12-17","v":0.751},{"d":"2022-12-19","v":0.739},{"d":"2022-12-22","v":0.738},{"d":"2022-12-25","v":0.745},{"d":"2022-12-28","v":0.745},{"d":"2022-12-31","v":0.748},{"d":"2023-01-03","v":0.751},{"d":"2023-01-04","v":0.765},{"d":"2023-01-07","v":0.773},{"d":"2023-01-10","v":0.779},{"d":"2023-01-12","v":0.785},{"d":"2023-01-14","v":0.797},{"d":"2023-01-16","v":0.803},{"d":"2023-01-19","v":0.806},{"d":"2023-01-23","v":0.807},{"d":"2023-01-27","v":0.809},{"d":"2023-01-30","v":0.811},{"d":"2023-02-01","v":0.803},{"d":"2023-02-04","v":0.795},
{"d":"2023-02-07","v":0.788},{"d":"2023-02-09","v":0.797},{"d":"2023-02-13","v":0.800},{"d":"2023-02-15","v":0.779},{"d":"2023-02-17","v":0.791},{"d":"2023-02-20","v":0.799},{"d":"2023-02-22","v":0.793},{"d":"2023-02-26","v":0.782},{"d":"2023-02-28","v":0.794},{"d":"2023-03-03","v":0.791},{"d":"2023-03-06","v":0.779},{"d":"2023-03-08","v":0.765},{"d":"2023-03-11","v":0.769},{"d":"2023-03-13","v":0.761},{"d":"2023-03-16","v":0.759},{"d":"2023-03-19","v":0.761},{"d":"2023-03-21","v":0.776},{"d":"2023-03-24","v":0.770},{"d":"2023-03-27","v":0.779},{"d":"2023-03-30","v":0.782}
]
},
"layer":[
{
"encoding":{
"x":{"field":"d","type":"temporal",
"scale":{"type":"utc","domain":[{"year":2020,"month":2,"date":18,"hours":5,"utc":true},{"year":2023,"month":4,"date":5,"hours":10,"utc":true}]},
"axis":{"title":null,"tickCount":80,"values":[
{"year":2020,"month":2,"date":19,"utc":true},{"year":2020,"month":3,"date":19,"utc":true},{"year":2020,"month":4,"date":19,"utc":true},{"year":2020,"month":5,"date":19,"utc":true},{"year":2020,"month":6,"date":19,"utc":true},{"year":2020,"month":7,"date":19,"utc":true},{"year":2020,"month":8,"date":19,"utc":true},{"year":2020,"month":9,"date":19,"utc":true},{"year":2020,"month":10,"date":19,"utc":true},{"year":2020,"month":11,"date":19,"utc":true},{"year":2020,"month":12,"date":19,"utc":true},
{"year":2021,"month":1,"date":19,"utc":true},{"year":2021,"month":2,"date":19,"utc":true},{"year":2021,"month":3,"date":19,"utc":true},{"year":2021,"month":4,"date":19,"utc":true},{"year":2021,"month":5,"date":19,"utc":true},{"year":2021,"month":6,"date":19,"utc":true},{"year":2021,"month":7,"date":19,"utc":true},{"year":2021,"month":8,"date":19,"utc":true},{"year":2021,"month":9,"date":19,"utc":true},{"year":2021,"month":10,"date":19,"utc":true},{"year":2021,"month":11,"date":19,"utc":true},{"year":2021,"month":12,"date":19,"utc":true},
{"year":2022,"month":1,"date":19,"utc":true},{"year":2022,"month":2,"date":19,"utc":true},{"year":2022,"month":3,"date":19,"utc":true},{"year":2022,"month":4,"date":19,"utc":true},{"year":2022,"month":5,"date":19,"utc":true},{"year":2022,"month":6,"date":19,"utc":true},{"year":2022,"month":7,"date":19,"utc":true},{"year":2022,"month":8,"date":19,"utc":true},{"year":2022,"month":9,"date":19,"utc":true},{"year":2022,"month":10,"date":19,"utc":true},{"year":2022,"month":11,"date":19,"utc":true},{"year":2022,"month":12,"date":19,"utc":true},
{"year":2023,"month":1,"date":19,"utc":true},{"year":2023,"month":2,"date":19,"utc":true},{"year":2023,"month":3,"date":19,"utc":true}],
"labelExpr":"utcyear(datum.value)+'年'+(utcmonth(datum.value)+1)+'月'+utcdate(datum.value)+'日'",
"labelAngle":-90,"labelOverlap":false,"labelFlush":false,"labelBound":false,
"labelFont":"Noto Sans CJK SC","labelFontSize":11,"labelColor":"#595959","labelPadding":9,
"ticks":false,"domain":true,"domainColor":"#D9D9D9","domainWidth":1,"grid":false}},
"y":{"field":"v","type":"quantitative",
"scale":{"domain":[0.65,1.6],"zero":false,"nice":false},
"axis":{"title":null,"tickCount":80,"labelOverlap":false,"values":[0.65,0.7,0.75,0.8,0.85,0.9,0.95,1.0,1.05,1.1,1.15,1.2,1.25,1.3,1.35,1.4,1.45,1.5,1.55,1.6],
"format":".2f","grid":true,"gridColor":"#D9D9D9","gridWidth":1,"domain":false,"ticks":false,"labelPadding":8,
"labelFont":"DejaVu Sans","labelFontSize":10,"labelColor":"#595959"}}
},
"layer":[
{"data":{"name":"fund"},"mark":{"type":"line","strokeWidth":3,"strokeJoin":"round"},
"encoding":{"stroke":{"datum":"资金曲线","type":"nominal",
"scale":{"domain":["资金曲线","系列2","系列3","沪深300指数","x"],"range":["#0000FF","#C0504D","#9BBB59","#FFFF00","transparent"]},
"legend":{"orient":"none","legendX":394,"legendY":699,"direction":"horizontal","title":null,"symbolType":"stroke","symbolSize":900,"symbolStrokeWidth":4,
"labelFont":"Noto Sans CJK SC","labelFontSize":12,"labelColor":"#595959","labelOffset":4,"columnPadding":96,"gridAlign":"none",
"labelExpr":"datum.label=='系列2'?'⠀⠀':datum.label=='系列3'?'':datum.label=='x'?'':datum.label","zindex":0}}}},
{"data":{"name":"fund"},"mark":{"type":"point","shape":"circle","filled":true,"size":50,"opacity":1,"stroke":"#7F8FA8","strokeWidth":0.6},
"encoding":{"fill":{"datum":"资金曲线","type":"nominal",
"scale":{"domain":["资金曲线","系列2","系列3","沪深300指数"],"range":["#E3A831","#C0504D","#9BBB59","#8064A2"]},
"legend":{"orient":"none","legendX":394,"legendY":699,"direction":"horizontal","title":null,
"symbolType":"M-1,0M1,0M-0.3,0A0.3,0.3,0,1,1,0.3,0A0.3,0.3,0,1,1,-0.3,0Z","symbolSize":900,"symbolStrokeWidth":4,"symbolStrokeColor":"transparent",
"labelFont":"Noto Sans CJK SC","labelFontSize":12,"labelColor":"#595959","labelOpacity":0,"labelOffset":4,"columnPadding":96,"gridAlign":"none",
"labelExpr":"datum.label=='系列2'?'⠀⠀':datum.label=='系列3'?'':datum.label","zindex":1}}}},
{"data":{"name":"hs"},"mark":{"type":"line","strokeWidth":3,"strokeJoin":"round"},
"encoding":{"stroke":{"datum":"沪深300指数","type":"nominal"}}},
{"data":{"name":"hs"},"mark":{"type":"point","shape":"circle","filled":true,"size":80,"opacity":1},
"encoding":{"fill":{"datum":"沪深300指数","type":"nominal"}}}
]
},
{"data":{"values":[{"t":"资金曲线"}]},
"mark":{"type":"text","font":"Noto Sans CJK SC","fontSize":27,"fontWeight":"bold","baseline":"middle","align":"left","fill":"#0000FF"},
"encoding":{"x":{"datum":1628924400000,"type":"temporal"},"y":{"datum":1.553,"type":"quantitative"},"text":{"field":"t","type":"nominal"}}},
{"data":{"values":[{"t":"与"}]},
"mark":{"type":"text","font":"Noto Sans CJK SC","fontSize":27,"fontWeight":"bold","baseline":"middle","align":"left","fill":"#000000"},
"encoding":{"x":{"datum":1636761600000,"type":"temporal"},"y":{"datum":1.553,"type":"quantitative"},"text":{"field":"t","type":"nominal"}}},
{"data":{"values":[{"t":"沪深300"}]},
"mark":{"type":"text","font":"Noto Sans CJK SC","fontSize":27,"fontWeight":"bold","baseline":"middle","align":"left","fill":"#FFFF00"},
"encoding":{"x":{"datum":1638946800000,"type":"temporal"},"y":{"datum":1.553,"type":"quantitative"},"text":{"field":"t","type":"nominal"}}},
{"data":{"values":[{"t":"走势对比图"}]},
"mark":{"type":"text","font":"Noto Sans CJK SC","fontSize":27,"fontWeight":"bold","baseline":"middle","align":"left","fill":"#000000"},
"encoding":{"x":{"datum":1645902000000,"type":"temporal"},"y":{"datum":1.553,"type":"quantitative"},"text":{"field":"t","type":"nominal"}}}
]
}
